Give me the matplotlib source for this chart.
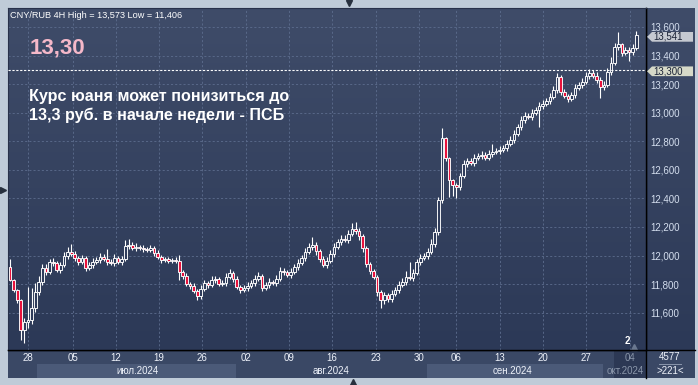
import numpy as np
import matplotlib
matplotlib.use("Agg")
import matplotlib.pyplot as plt
import matplotlib.transforms as mtransforms
from matplotlib.colors import LinearSegmentedColormap
from matplotlib.lines import Line2D
from matplotlib.patches import Polygon

plt.rcParams['font.family'] = ['Liberation Sans', 'DejaVu Sans']

# 4H closes, CNY/RUB
closes = [
    11829, 11759, 11689, 11479, 11535, 11549, 11633, 11745, 11815, 11913,
    11885, 11955, 11948, 11899, 11934, 11997, 12025, 12011, 11983, 11955,
    11983, 11913, 11934, 11955, 11969, 11990, 11976, 11955, 11948, 11983,
    11955, 11976, 12067, 12074, 12053, 12060, 12053, 12046, 12039, 12053,
    12018, 11990, 11969, 11976, 11962, 11969, 11962, 11885, 11857, 11801,
    11787, 11752, 11717, 11766, 11808, 11794, 11829, 11836, 11801, 11808,
    11850, 11878, 11836, 11780, 11759, 11773, 11787, 11808, 11836, 11857,
    11773, 11794, 11815, 11808, 11836, 11892, 11885, 11864, 11885, 11920,
    11948, 11983, 12025, 12060, 12074, 12032, 11976, 11934, 11962, 12011,
    12060, 12095, 12116, 12109, 12151, 12186, 12172, 12137, 12053, 11941,
    11892, 11850, 11745, 11689, 11724, 11696, 11731, 11759, 11794, 11815,
    11850, 11843, 11878, 11955, 11983, 11997, 12025, 12081, 12165, 12389,
    12823, 12683, 12529, 12494, 12480, 12557, 12641, 12662, 12648, 12683,
    12697, 12704, 12683, 12711, 12725, 12730, 12739, 12753, 12781, 12809,
    12851, 12900, 12949, 12977, 12970, 12998, 13019, 13047, 13061, 13082,
    13110, 13160, 13250, 13145, 13117, 13096, 13124, 13173, 13194, 13215,
    13257, 13278, 13257, 13229, 13180, 13194, 13285, 13348, 13460, 13481,
    13418, 13439, 13425, 13453, 13541,
]
first_open = 11920
wick_up = [
    56, 10, 10, 10, 30, 230, 140, 60, 40, 30, 25, 20, 25, 15, 20, 30, 35, 56, 20, 15, 20, 15, 20, 25, 20,
    30, 20, 70, 20, 25, 15, 20, 40, 40, 20, 25, 15, 20, 15, 20, 15, 20, 15, 15, 15, 15, 20, 42, 15, 20,
    15, 20, 15, 30, 20, 15, 25, 20, 15, 20, 25, 30, 15, 20, 15, 20, 25, 20, 25, 30, 15, 20, 25, 15, 25,
    30, 20, 15, 25, 20, 25, 20, 25, 30, 56, 20, 15, 20, 25, 30, 25, 20, 30, 25, 30, 40, 50, 20, 15, 15,
    15, 15, 15, 15, 20, 15, 25, 20, 30, 25, 40, 105, 30, 20, 25, 20, 30, 35, 30, 20, 70, 10, 10, 10, 15,
    20, 25, 20, 20, 25, 20, 30, 20, 25, 56, 20, 25, 20, 25, 30, 25, 20, 25, 30, 20, 25, 20, 30, 25, 20,
    25, 30, 25, 15, 20, 15, 20, 25, 20, 25, 30, 25, 20, 25, 20, 25, 30, 40, 30, 84, 10, 20, 20, 30, 32,
]
wick_dn = [
    10, 15, 20, 73, 90, 40, 30, 30, 20, 20, 20, 15, 20, 15, 20, 15, 20, 15, 20, 20, 15, 20, 15, 20, 15,
    20, 15, 20, 15, 20, 15, 20, 15, 20, 15, 20, 15, 20, 15, 15, 20, 15, 20, 15, 15, 15, 15, 55, 20, 15,
    20, 15, 30, 20, 15, 20, 15, 20, 15, 15, 20, 15, 20, 15, 20, 15, 20, 15, 20, 15, 20, 15, 20, 15, 20,
    15, 20, 15, 20, 15, 20, 15, 20, 15, 20, 25, 20, 15, 20, 15, 20, 15, 20, 15, 20, 15, 20, 25, 30, 20,
    20, 15, 25, 56, 30, 20, 20, 15, 20, 15, 20, 15, 20, 15, 20, 15, 20, 15, 20, 20, 20, 20, 120, 80, 80,
    20, 15, 20, 15, 20, 15, 20, 15, 15, 20, 15, 20, 15, 20, 15, 20, 15, 20, 20, 15, 20, 15, 120, 20, 15,
    20, 15, 20, 20, 15, 20, 15, 20, 15, 20, 15, 20, 15, 20, 77, 20, 15, 20, 15, 20, 20, 15, 60, 20, 15,
]

date_labels = ['28', '05', '12', '19', '26', '02', '09', '16', '23', '30', '06', '13', '20', '27', '04']
date_pos = [5, 17.5, 29.4, 41.4, 53.3, 65.6, 77.5, 89.4, 101.7, 113.6, 123.9, 136.1, 148, 160, 172.2]
months = ['июл.2024', 'авг.2024', 'сен.2024', 'окт.2024']
month_start = [7.5, 62.8, 115.8, 167.8]
month_end = [62.8, 115.8, 164.7, 176.7]
month_text_pos = [35.3, 89.2, 139.7, 170.8]
price_ticks = list(range(11600, 13601, 200))
level = 13300
title = "CNY/RUB 4H High = 13,573 Low = 11,406"

n = len(closes)
assert len(wick_up) == n and len(wick_dn) == n
idx = np.arange(n)
opens = np.array([first_open] + closes[:-1])
closes = np.array(closes)
highs = np.maximum(opens, closes) + np.array(wick_up)
lows = np.minimum(opens, closes) - np.array(wick_dn)
up = closes >= opens

W, H = 698, 385
fig = plt.figure(figsize=(W / 100, H / 100), dpi=100, facecolor='#bfcbd8')

def fx(px):
    return px / W

def fy(py):
    return 1 - py / H

bg_cmap = LinearSegmentedColormap.from_list('bg', ['#2c3957', '#3f4c69'])
grad = np.linspace(0, 1, 256).reshape(-1, 1)

# right price panel background
axr = fig.add_axes([fx(646), fy(350), fx(695) - fx(646), fy(8) - fy(350)])
axr.imshow(grad, cmap=bg_cmap, origin='lower', aspect='auto', extent=[0, 1, 0, 1])
axr.set_axis_off()

# main chart
ax = fig.add_axes([fx(8), fy(350), fx(646) - fx(8), fy(8) - fy(350)])
ax.set_zorder(3)
ax.imshow(grad, cmap=bg_cmap, origin='lower', aspect='auto', extent=[0, 1, 0, 1],
          transform=ax.transAxes, zorder=0)

# date axis panel
axb = fig.add_axes([fx(8), fy(378), fx(646) - fx(8), fy(350) - fy(378)], sharex=ax)
axb.set_zorder(1)
axb.set_facecolor('#3a4865')
axb.set_ylim(0, 1)
for s in axb.spines.values():
    s.set_visible(False)
axb.tick_params(left=False, bottom=False, labelleft=False, labelbottom=False)

# bottom-right info box
axc = fig.add_axes([fx(646), fy(378), fx(695) - fx(646), fy(350) - fy(378)])
axc.set_facecolor('#3a4865')
axc.set_xlim(0, 1)
axc.set_ylim(0, 1)
for s in axc.spines.values():
    s.set_visible(False)
axc.set_xticks([])
axc.set_yticks([])
axc.text(0.49, 0.74, '4577', color='#eef2fa', fontsize=7, ha='center', va='center')
axc.plot([0.27, 0.71], [0.5, 0.5], color='#8a96ac', lw=0.7)
axc.text(0.49, 0.25, '>221<', color='#eef2fa', fontsize=7, ha='center', va='center')

# candles
ax.vlines(idx, lows, highs, color='white', lw=0.8, zorder=2)
body = np.maximum(np.abs(closes - opens), 6)
ax.bar(idx, body, bottom=np.minimum(opens, closes), width=0.74,
       color=np.where(up, '#2f3c5b', '#e8123c'), edgecolor='white', linewidth=0.65, zorder=3)

ax.axhline(level, color='white', lw=0.8, ls=(0, (2, 1.5)), zorder=4)

ax.set_xlim(-0.56, 176.7)
ax.set_ylim(11339, 13733)
ax.set_xticks(date_pos)
ax.set_yticks(price_ticks)
ax.set_yticklabels([f"{p:,}" for p in price_ticks])
ax.yaxis.tick_right()
ax.tick_params(axis='y', length=0, pad=3, labelsize=7, labelcolor='#d4deee')
ax.tick_params(axis='x', length=0, labelbottom=False)
ax.grid(True, color='#5d6d8e', linestyle=(0, (2.5, 2.5)), linewidth=0.6)
ax.set_axisbelow(True)
for side in ['left', 'top']:
    ax.spines[side].set_color('#28314a')
for side in ['right', 'bottom']:
    ax.spines[side].set_color('black')
    ax.spines[side].set_linewidth(1.0)

# texts on chart
ax.text(0.003, 0.972, title, transform=ax.transAxes, color='white', fontsize=6.6, va='baseline')
ax.text(0.034, 0.8655, '13,30', transform=ax.transAxes, color='#f5b8c9', fontsize=16,
        fontweight='bold', va='baseline')
ax.text(0.033, 0.728, 'Курс юаня может понизиться до', transform=ax.transAxes, color='white',
        fontsize=11.6, fontweight='bold', va='baseline')
ax.text(0.033, 0.673, '13,3 руб. в начале недели - ПСБ', transform=ax.transAxes, color='white',
        fontsize=11.6, fontweight='bold', va='baseline')

# price markers on the right scale
blend = mtransforms.blended_transform_factory(ax.transAxes, ax.transData)
for price, fc in [(closes[-1], '#c5c9d1'), (level, '#d6d9c8')]:
    h = 34
    y0 = price - 10
    pts = [(1.0016, y0), (1.0094, y0 + h), (1.0737, y0 + h),
           (1.0737, y0 - h), (1.0094, y0 - h)]
    ax.add_patch(Polygon(pts, closed=True, transform=blend, facecolor=fc,
                         edgecolor='none', clip_on=False, zorder=5))
    ax.text(1.0115, y0, f"{price:,}", transform=blend, color='#1a2236', fontsize=7,
            va='center', ha='left', clip_on=False, zorder=6)

# date axis: month bands and labels
axb.axvspan(month_start[0], month_end[0], 0, 0.5, color='#4b5a78', lw=0)
axb.axvspan(month_start[2], month_end[2], 0, 0.5, color='#4b5a78', lw=0)
axb.axvspan(month_start[3], month_end[3], 0, 1, color='#2c3854', lw=0)
for lab, pos in zip(date_labels, date_pos):
    c = '#8a96aa' if lab == '04' else '#eef2fa'
    axb.text(pos, 0.71, lab, color=c, fontsize=7, ha='center', va='center')
for lab, pos in zip(months, month_text_pos):
    c = '#8a96aa' if lab.startswith('окт') else '#eef2fa'
    axb.text(pos, 0.25, lab, color=c, fontsize=7, ha='center', va='center')

bl = mtransforms.blended_transform_factory(ax.transData, ax.transAxes)
ax.text(171.4, 0.012, '2', transform=bl, color='white', fontsize=7, fontweight='bold',
        ha='center', va='bottom')
ax.plot([173.3], [0.01], marker='^', ms=4, color='#6a7890', transform=bl, clip_on=False)

# frame lines and little scroll arrows in the border
fig.add_artist(Line2D([fx(646), fx(646)], [fy(378), fy(8)], color='black', lw=1.0))
fig.add_artist(Line2D([fx(8), fx(695)], [fy(350), fy(350)], color='black', lw=1.0))
fig.add_artist(Line2D([fx(349)], [fy(3)], marker='v', ms=5, color='#27303e', ls=''))
fig.add_artist(Line2D([fx(353)], [fy(382)], marker='^', ms=5, color='#27303e', ls=''))
fig.add_artist(Line2D([fx(3)], [fy(190)], marker='>', ms=5, color='#27303e', ls=''))

fig.savefig('out.png', dpi=100, facecolor=fig.get_facecolor())
